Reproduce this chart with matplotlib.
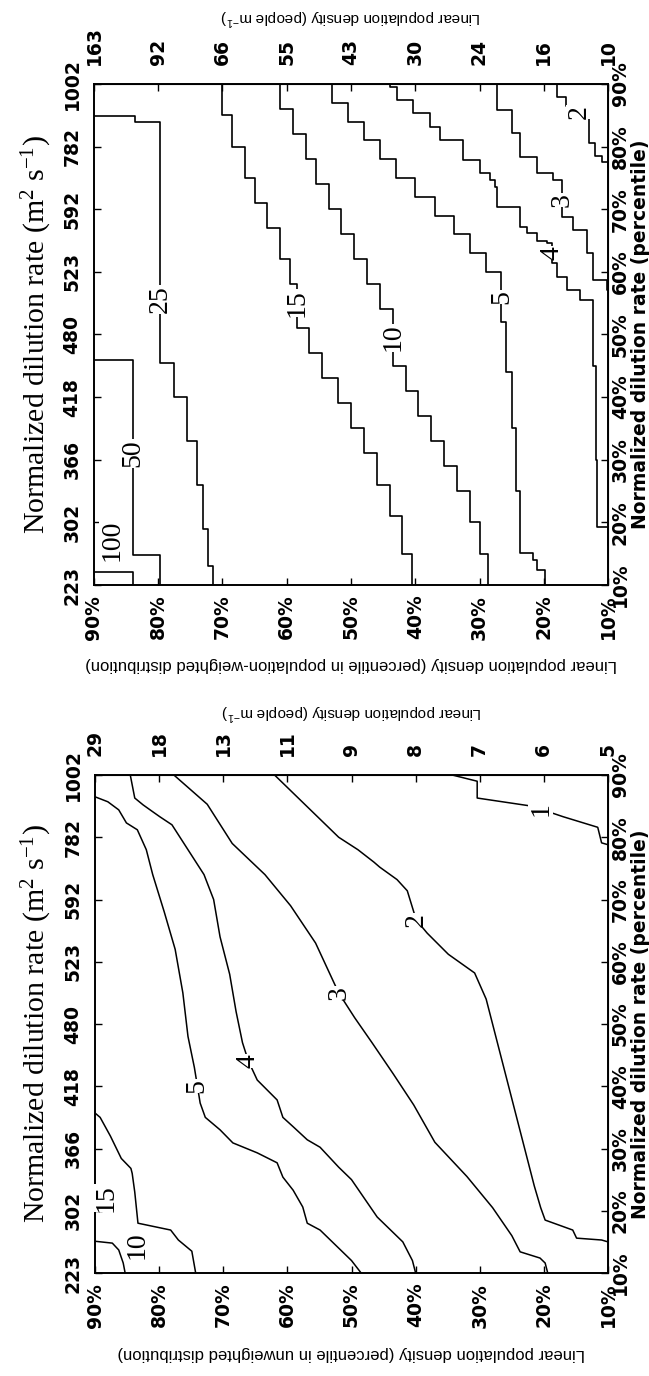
import numpy as np
import matplotlib.pyplot as plt

# tick values
pct = [10, 20, 30, 40, 50, 60, 70, 80, 90]
pct_labels = ['%d%%' % p for p in pct]
dilution_vals = ['223', '302', '366', '418', '480', '523', '592', '782', '1002']
density_vals_weighted = ['10', '16', '24', '30', '43', '55', '66', '92', '163']
density_vals_unweighted = ['5', '6', '7', '8', '9', '11', '13', '18', '29']

# contour lines, x = density percentile, y = dilution percentile
# population-weighted panel (staircase lines)
w_100_dens = [90, 84]
w_100_dil = [12.1, 10]
w_50_dens = [90, 83.9, 79.7]
w_50_dil = [46, 14.8, 10]
w_25_dens = [90, 83.6, 79.7, 77.5, 75.5, 74, 73, 72.2, 71.5]
w_25_dil = [84.9, 83.9, 45.5, 40, 33, 26, 19, 13, 10]
w_15_dens = [70, 70, 68.5, 66.5, 65, 63, 61, 59.5, 58.4, 56.5, 54.5, 52, 50, 48, 46, 44, 42, 40.5]
w_15_dil = [90, 85, 80, 75, 71, 67, 62, 58, 51, 47, 43, 39, 35, 31, 26, 21, 15, 10]
w_10_dens = [61, 61, 59, 57, 55.5, 53.5, 51.5, 49.5, 47.5, 45.5, 43.5, 41.5, 39.5, 37.5,
             35.5, 33.5, 31.5, 30, 28.6]
w_10_dil = [90, 86, 82, 78, 74, 70, 66, 62, 58, 54, 45, 41, 37, 33, 29, 25, 20, 15, 10]
w_5_dens = [53, 53, 50.5, 48, 45.5, 43, 40, 37, 34, 31.5, 29, 26.6, 25.8, 25, 24.3, 23.7,
            21.6, 21.1, 19.8]
w_5_dil = [90, 87, 84, 81, 78, 75, 72, 69, 66, 63, 60, 52, 44, 35, 25, 15.1, 14, 12.4, 10]
w_4_dens = [44.4, 43.9, 42.8, 40.4, 37.7, 36.2, 32.6, 29.9, 28.4, 27.6, 27.3, 23.7, 22.6,
            21.1, 19.5, 18.7, 17.9, 16.4, 14.4, 12.3, 11.8, 11.7, 10]
w_4_dil = [90, 89.5, 87.4, 85.4, 83.1, 81.1, 77.9, 75.8, 74.7, 73.6, 70.4, 67.2, 66.2,
           65, 64.6, 61.4, 59.2, 57.1, 55.5, 45, 30, 19.3, 16.4]
w_3_dens = [27.3, 27.3, 25, 23.7, 21.1, 18.6, 17.2, 15.5, 13.3, 12.3, 10.2, 10]
w_3_dil = [90, 85.8, 82.2, 78.3, 75.8, 74.7, 68.8, 66.7, 63, 58.7, 57.1, 57.1]
w_2_dens = [19.5, 18, 16.5, 14, 13, 12, 11, 10]
w_2_dil = [90, 88, 86.5, 84.5, 80.5, 78.5, 77.5, 76.7]

# unweighted panel
u_15_dens = [90, 87.3, 86.3, 85.6, 85.3]
u_15_dil = [15.1, 14.8, 13.7, 11.6, 10]
u_10_dens = [90, 89.2, 87.6, 85.9, 84.4, 84.2, 83.8, 83.6, 83.3, 78.2, 77, 74.9, 74.3]
u_10_dil = [35.7, 35, 32, 28.4, 26.8, 26, 23, 21, 18, 16.9, 15.3, 13.5, 10]
u_5_dens = [90, 88, 86.3, 85.1, 83.4, 82, 81, 79.2, 77.5, 76.3, 75.5, 74.5, 73.6, 72.8,
            70.5, 68.5, 64.7, 61.6, 60.7, 59.1, 57.6, 56.9, 54.9, 52, 50, 48.5]
u_5_dil = [86.5, 85.7, 84.4, 82.3, 81.2, 78, 74, 68, 62, 55, 48, 43, 37.3, 35,
           33, 30.9, 29.3, 27.7, 25.4, 23.3, 20.6, 18, 16.9, 14, 12, 10]
u_4_dens = [84.5, 83.8, 82.5, 81, 79.9, 78, 75.5, 73, 71.5, 70.5, 69, 68, 67, 66.1, 64.7,
            61.6, 60.7, 59.1, 56.9, 54.9, 52, 50, 48, 46, 44, 42, 40.5, 40]
u_4_dil = [90, 86.3, 85.2, 84.1, 83.3, 82, 78, 74, 70, 64, 58, 52, 47, 44.1, 41,
           37.8, 35, 33.5, 31.4, 30.2, 27, 25, 22, 19, 17, 15, 12, 10]
u_3_dens = [77.7, 72.5, 68.6, 63.5, 59.5, 55.6, 52, 49.5, 46.8, 43.5, 40.3, 37,
            32, 28, 25, 23.7, 20.6, 19.8, 19.4]
u_3_dil = [90, 85.3, 79, 74, 69, 63, 55, 51, 47, 42, 37, 31,
           25.5, 20.5, 16, 13.4, 12.4, 11.6, 10]
u_2_dens = [62, 58, 55, 52, 49, 46.5, 45.6, 42.9, 41.3, 39.9, 38.2, 34.9, 30.8, 29, 27.5,
            26, 24.5, 23, 21.5, 20.5, 19.8, 15.5, 14.9, 11, 10]
u_2_dil = [90, 86, 83, 80, 78, 76, 75.2, 73.2, 71.4, 66.7, 64.6, 61.2, 58.2, 54, 48,
           42, 36, 30, 24, 20.5, 18.5, 16.9, 15.6, 15.3, 15]
u_1_dens = [34.3, 30.4, 30.4, 21.9, 17, 11.6, 11, 10]
u_1_dil = [90, 89, 86.3, 85.0, 83.3, 81.6, 79.1, 78.8]

# contour label positions (text, density, dilution)
w_labels = [('100', 87.2, 17.2), ('50', 83.9, 31), ('25', 79.7, 55.6), ('15', 58.4, 55),
            ('10', 43.5, 49.5), ('5', 26.6, 56), ('4', 18.7, 63), ('3', 17.2, 71.5),
            ('2', 14.5, 85.5)]
u_labels = [('15', 88.3, 22), ('10', 83.5, 14.5), ('5', 74.1, 40), ('4', 66.1, 44.1),
            ('3', 52, 55), ('2', 39.9, 66.7), ('1', 20.5, 84.5)]

w_lines = [(w_100_dens, w_100_dil), (w_50_dens, w_50_dil), (w_25_dens, w_25_dil),
           (w_15_dens, w_15_dil), (w_10_dens, w_10_dil), (w_5_dens, w_5_dil),
           (w_4_dens, w_4_dil), (w_3_dens, w_3_dil), (w_2_dens, w_2_dil)]
u_lines = [(u_15_dens, u_15_dil), (u_10_dens, u_10_dil), (u_5_dens, u_5_dil),
           (u_4_dens, u_4_dil), (u_3_dens, u_3_dil), (u_2_dens, u_2_dil),
           (u_1_dens, u_1_dil)]

tick_font = dict(family='DejaVu Sans', weight='bold', size=13.5)
serif = 'Liberation Serif'

fig = plt.figure(figsize=(6.49, 13.76), dpi=100)


def panel(rect, lines, labels, dens_vals, bottom_label, y_top_label, steps):
    ax = fig.add_axes(rect)
    for d, u in lines:
        if steps:
            ax.plot(d, u, color='black', lw=1.2, drawstyle='steps-post')
        else:
            ax.plot(d, u, color='black', lw=1.1)
    for txt, d, u in labels:
        ax.text(d, u, txt, rotation=90, ha='center', va='center', family=serif,
                size=20, bbox=dict(facecolor='white', edgecolor='none', pad=0.3))
    ax.set_xlim(90, 10)
    ax.set_ylim(10, 90)
    ax.set_xticks(pct[::-1])
    ax.set_xticklabels(pct_labels[::-1], rotation=90, **tick_font)
    ax.set_yticks(pct)
    ax.set_yticklabels(dilution_vals, rotation=90, va='center', **tick_font)
    ax.tick_params(direction='in', length=5, width=1)
    ax.tick_params(axis='x', pad=7)
    ax.tick_params(axis='y', pad=9)
    for s in ax.spines.values():
        s.set_linewidth(1.4)

    top = ax.secondary_xaxis('top')
    top.set_xticks(pct[::-1])
    top.set_xticklabels(dens_vals[::-1], rotation=90, **tick_font)
    top.tick_params(direction='in', length=5, width=1, pad=14)

    right = ax.secondary_yaxis('right')
    right.set_yticks(pct)
    right.set_yticklabels(pct_labels, rotation=90, va='center', **tick_font)
    right.tick_params(direction='in', length=5, width=1, pad=2)

    b = ax.get_position()
    cy = (b.y0 + b.y1) / 2
    cx = (b.x0 + b.x1) / 2
    fig.text(37 / 649, cy, 'Normalized dilution rate (m$\\mathregular{^2}$ s$\\mathregular{^{-1}}$)',
             rotation=90, ha='center', va='center', family=serif, size=21.5)
    fig.text(641 / 649, cy, 'Normalized dilution rate (percentile)', rotation=90,
             ha='center', va='center', family='DejaVu Sans', weight='bold', size=13.5)
    fig.text(cx, 1 - y_top_label / 1376, 'Linear population density (people m$\\mathregular{^{-1}}$)',
             rotation=180, ha='center', va='center', family='Liberation Sans', size=11)
    fig.text(cx, b.y0 - 80 / 1376, bottom_label, rotation=180, ha='center', va='center',
             family='Liberation Sans', size=12)
    return ax


panel([94 / 649, 1 - 585 / 1376, 514 / 649, 501 / 1376], w_lines, w_labels,
      density_vals_weighted,
      'Linear population density (percentile in population-weighted distribution)', 17, True)
panel([95 / 649, 1 - 1273 / 1376, 513 / 649, 498 / 1376], u_lines, u_labels,
      density_vals_unweighted,
      'Linear population density (percentile in unweighted distribution)', 712, False)

fig.savefig('out.png', dpi=100)
